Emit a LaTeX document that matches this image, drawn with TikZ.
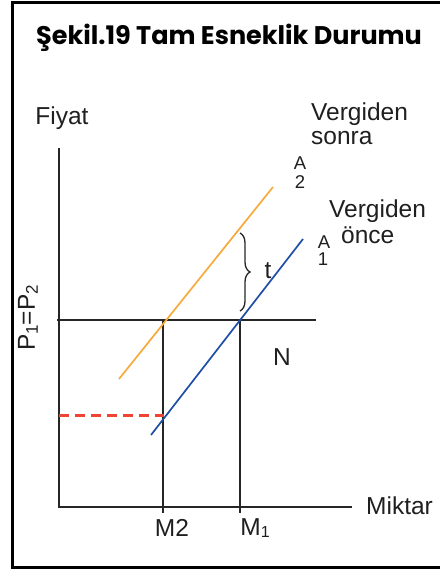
\documentclass[tikz,border=0pt]{standalone}
\usepackage{fontspec}
\setmainfont{Liberation Sans}
\newfontfamily\titlefont{Poppins}
\usetikzlibrary{decorations.pathreplacing}
\definecolor{supply2}{HTML}{F7A93B}
\definecolor{supply1}{HTML}{1E4FA6}
\definecolor{dashred}{HTML}{EE4433}
\newcommand{\lowsub}[1]{\raisebox{-3pt}{\fontsize{17}{18}\selectfont #1}}
\tikzset{
  frameline/.style={line width=3pt, black},
  axisline/.style={line width=2pt, black!85},
  guide/.style={line width=1.8pt, black!85},
  curveA/.style={line width=1.7pt},
  lbl/.style={font=\fontsize{24.5}{26}\selectfont, text=black!88, inner sep=0pt},
  small/.style={font=\fontsize{18.5}{19}\selectfont, text=black!88, inner sep=0pt},
}
\begin{document}
\begin{tikzpicture}[x=1pt,y=-1pt]
\useasboundingbox (0,0) rectangle (439,569);
% frame
\draw[frameline] (12,3) -- (445,3);
\draw[frameline] (12,1.5) -- (12,567) -- (445,567);
% title
\node[inner sep=0pt, font=\titlefont\bfseries\fontsize{25.5}{27}\selectfont] (title) at (229,38) {Şekil.19 Tam Esneklik Durumu};
% axes
\coordinate (O) at (59,507);
\coordinate (ytop) at (59,148);
\coordinate (xend) at (352,507);
\draw[axisline] (ytop) -- (O) -- (xend);
\node[lbl] (fiyat) at (62,118) {Fiyat};
\node[lbl, anchor=west] (miktar) at (366,506) {Miktar};
% price line
\coordinate (pl) at (57,320);
\coordinate (pr) at (316,320);
\draw[guide] (pl) -- (pr);
\node[lbl, rotate=90] (p12) at (28,318) {P\lowsub{1}=P\lowsub{2}};
% quantity lines
\coordinate (m2top) at (163,320);
\coordinate (m2bot) at (163,513);
\coordinate (m1top) at (240,320);
\coordinate (m1bot) at (240,513);
\draw[guide] (m2top) -- (m2bot);
\draw[guide] (m1top) -- (m1bot);
\node[lbl] (m2) at (172,528) {M2};
\node[lbl] (m1) at (255,528) {M\raisebox{-2pt}{\fontsize{16}{17}\selectfont 1}};
% supply curves
\coordinate (a2s) at (119,379);
\coordinate (a2e) at (273,187);
\coordinate (a1s) at (151,435);
\coordinate (a1e) at (303,239);
\draw[curveA, supply2] (a2s) -- (a2e);
\draw[curveA, supply1] (a1s) -- (a1e);
% red dashed
\coordinate (rl) at (59,415);
\coordinate (rr) at (164,415);
\draw[line width=3pt, dashred, dash pattern=on 10pt off 6pt] (rl) -- (rr);
% brace
\coordinate (bt) at (240,233);
\coordinate (bb) at (240,311);
\draw[line width=1.3pt, black!85, decorate, decoration={brace, amplitude=10pt}] (bt) -- (bb);
\node[lbl] (t) at (268,271) {t};
\node[lbl] (N) at (282,357) {N};
% labels
\node[small] (a2A) at (300,163) {A};
\node[small] (a2n) at (300,182) {2};
\node[small] (a1A) at (324,242) {A};
\node[small] (a1n) at (323,259) {1};
\node[lbl, anchor=west] (vs1) at (311,114) {Vergiden};
\node[lbl, anchor=west] (vs2) at (311,138) {sonra};
\node[lbl, anchor=west] (vo1) at (329,211) {Vergiden};
\node[lbl, anchor=west] (vo2) at (341,235) {önce};
\end{tikzpicture}
\end{document}
